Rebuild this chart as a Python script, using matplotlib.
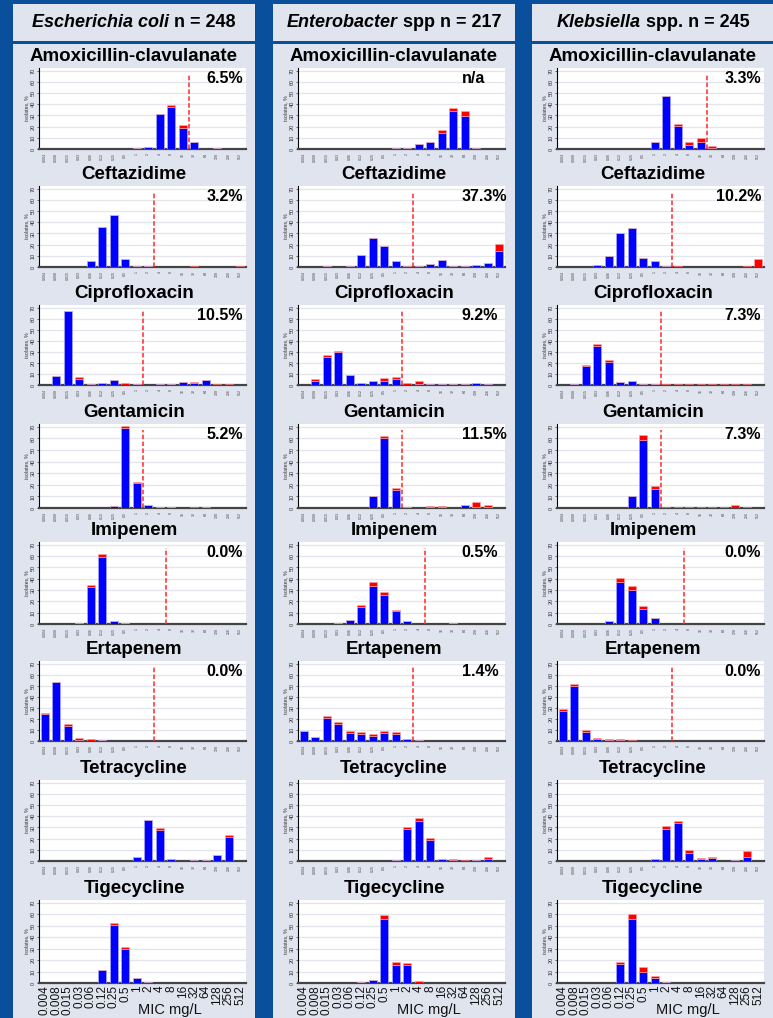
import matplotlib
matplotlib.use('Agg')
import matplotlib.pyplot as plt
from matplotlib.patches import Rectangle
import numpy as np

plt.rcParams['font.family'] = ['Liberation Sans', 'DejaVu Sans']

W, H = 773, 1018

MIC = ['0.004', '0.008', '0.015', '0.03', '0.06', '0.12', '0.25', '0.5', '1', '2',
       '4', '8', '16', '32', '64', '128', '256', '512']
DRUGS = ['Amoxicillin-clavulanate', 'Ceftazidime', 'Ciprofloxacin', 'Gentamicin',
         'Imipenem', 'Ertapenem', 'Tetracycline', 'Tigecycline']
ORGANISMS = [('Escherichia coli', ' n = 248'), ('Enterobacter', ' spp n = 217'),
             ('Klebsiella', ' spp. n = 245')]

# ---- Escherichia coli (% isolates per MIC; blue = susceptible part, red = stacked top)
ECOLI_BLUE = {
    'Amoxicillin-clavulanate': [0, 0, 0, 0, 0, 0, 0, 0, 1.2, 1.8, 30.9, 37.8, 19.2, 6.3, 0, 0.6, 0, 0],
    'Ceftazidime': [0, 0, 0, 0, 5.1, 35.6, 46.5, 7.5, 1.2, 1.2, 0, 0, 0, 0, 0, 0, 0, 0],
    'Ciprofloxacin': [0, 8.2, 66.9, 5.8, 1.2, 1.8, 4.6, 0.4, 0.9, 0, 0.9, 1.2, 2.7, 1.5, 4.3, 0, 0, 0],
    'Gentamicin': [0, 0, 0, 0, 0, 0, 2.0, 69.0, 21.3, 2.6, 1.2, 1.2, 0, 0, 1.2, 0, 0, 0],
    'Imipenem': [0, 0, 0, 0.9, 32.3, 59.3, 2.4, 0.6, 0, 0, 0, 0, 0, 0, 0, 0, 0, 0],
    'Ertapenem': [24.3, 53.8, 13.7, 0.8, 0, 1.0, 0, 0, 0, 0, 0, 0, 0, 0, 0, 0, 0, 0],
    'Tetracycline': [0, 0, 0, 0, 0, 0, 0, 0, 3.6, 36.5, 27.8, 1.8, 0, 0.6, 0.6, 5.1, 21.1, 0],
    'Tigecycline': [0, 0, 0, 0, 0, 11.2, 51.0, 29.4, 4.0, 0.9, 0, 0, 0, 0, 0, 0, 0, 0],
}
ECOLI_RED = {
    'Amoxicillin-clavulanate': [0, 0, 0, 0, 0, 0, 0, 0, 0, 0, 0, 1.8, 2.1, 0, 0, 0, 0, 0],
    'Ceftazidime': [0, 0, 0, 0, 0, 0, 0, 0, 0, 0, 0, 0, 0.3, 1.2, 0, 0, 0.3, 1.0],
    'Ciprofloxacin': [0, 0, 0, 1.5, 0, 0, 0, 1.4, 0, 0, 0, 0, 0, 1.2, 0, 0.6, 1.2, 0],
    'Gentamicin': [0, 0, 0, 0, 0, 0, 0, 2.0, 0.9, 0, 0, 0, 0, 1.2, 0, 0, 0, 0],
    'Imipenem': [0, 0, 0, 0, 1.8, 2.7, 0, 0, 0, 0, 0, 0, 0, 0, 0, 0, 0, 0],
    'Ertapenem': [1.2, 0, 1.5, 1.6, 1.5, 0, 0, 0, 0, 0, 0, 0, 0, 0, 0, 0, 0, 0],
    'Tetracycline': [0, 0, 0, 0, 0, 0, 0, 0, 0, 0, 1.8, 0, 0, 0, 0, 0, 2.5, 0],
    'Tigecycline': [0, 0, 0, 0, 0, 0, 1.7, 1.7, 0, 0, 0, 0, 0, 0, 0, 0, 0, 0],
}

# ---- Enterobacter spp
ENTB_BLUE = {
    'Amoxicillin-clavulanate': [0, 0, 0, 0, 0, 0, 0, 0, 0.6, 0.6, 4.2, 6.0, 14.1, 33.9, 29.7, 0.9, 0, 0],
    'Ceftazidime': [0, 0, 0.6, 0, 1.2, 10.3, 26.3, 18.4, 5.7, 0.6, 0.6, 2.4, 6.0, 1.2, 0.9, 1.8, 3.9, 13.9],
    'Ciprofloxacin': [0, 3.9, 25.1, 29.6, 9.1, 1.5, 3.3, 3.3, 5.1, 0, 1.2, 0.6, 0.6, 0.6, 0.6, 1.5, 0.9, 0],
    'Gentamicin': [0, 0, 0, 0, 0, 0, 10.2, 60.8, 15.7, 0.6, 0, 0.6, 0.6, 0, 2.3, 1.2, 1.2, 0],
    'Imipenem': [0, 0, 0, 0.6, 3.9, 15.3, 33.2, 26.0, 11.4, 2.4, 0, 0, 0, 0.6, 0, 0, 0, 0],
    'Ertapenem': [9.2, 4.0, 20.9, 15.6, 7.1, 6.1, 4.3, 7.4, 6.4, 2.1, 1.2, 0, 0, 0, 0, 0, 0, 0],
    'Tetracycline': [0, 0, 0, 0, 0, 0, 0, 0, 0.9, 28.7, 35.8, 19.0, 1.5, 0.5, 0, 0.6, 2.1, 0],
    'Tigecycline': [0, 0, 0, 0, 0, 0.6, 2.9, 56.0, 15.8, 15.8, 0, 0, 0, 0, 0, 0, 0, 0],
}
ENTB_RED = {
    'Amoxicillin-clavulanate': [0, 0, 0, 0, 0, 0, 0, 0, 0, 0, 0, 0, 2.7, 2.4, 4.2, 0, 0, 0],
    'Ceftazidime': [0, 0, 0, 0, 0, 0, 0, 0, 0, 0, 0, 0, 0, 0, 0, 0, 0, 6.3],
    'Ciprofloxacin': [0, 1.2, 2.1, 1.5, 0, 0, 0, 2.7, 1.8, 1.8, 2.1, 0, 0, 0, 0, 0, 0, 0],
    'Gentamicin': [0, 0, 0, 0, 0, 0, 0, 1.7, 1.5, 0, 0, 0.9, 0.9, 0, 0, 3.7, 1.1, 0],
    'Imipenem': [0, 0, 0, 0, 0, 1.5, 3.6, 2.4, 1.2, 0, 0, 0, 0, 0, 0, 0, 0, 0],
    'Ertapenem': [0, 0, 1.8, 1.9, 1.8, 1.9, 1.8, 1.8, 1.6, 0, 0, 0, 0, 0, 0, 0, 0, 0],
    'Tetracycline': [0, 0, 0, 0, 0, 0, 0, 0, 0, 1.3, 2.7, 1.8, 0, 1.0, 0.6, 0, 1.3, 0],
    'Tigecycline': [0, 0, 0, 0, 0, 0, 0, 3.5, 2.7, 1.8, 1.8, 0, 0, 0, 0, 0, 0, 0],
}

# ---- Klebsiella spp.
KLEB_BLUE = {
    'Amoxicillin-clavulanate': [0, 0, 0, 0, 0, 0, 0, 0, 6.0, 47.0, 21.0, 4.0, 6.0, 1.0, 0, 0, 0, 0],
    'Ceftazidime': [0, 0, 0, 2.0, 10.0, 30.0, 35.0, 8.0, 5.0, 1.0, 0, 0, 0, 0, 0, 0, 0, 0],
    'Ciprofloxacin': [0, 1.0, 17.0, 35.0, 21.0, 3.0, 4.0, 1.0, 1.0, 0, 0, 0, 0, 0, 0, 0, 0, 0],
    'Gentamicin': [0, 0, 0, 0, 0, 0, 10.0, 59.0, 16.0, 0, 0, 0, 0, 0, 0, 0, 0, 0],
    'Imipenem': [0, 0, 0, 0, 3.0, 37.0, 30.0, 13.0, 5.0, 0, 0, 0, 0, 0, 0, 0, 0, 0],
    'Ertapenem': [27.0, 50.0, 8.0, 1.5, 1.0, 0.5, 0, 0, 0, 0, 0, 0, 0, 0, 0, 0, 0, 0],
    'Tetracycline': [0, 0, 0, 0, 0, 0, 0, 0, 2.0, 29.0, 34.0, 7.0, 2.0, 3.0, 0, 1.0, 4.0, 0],
    'Tigecycline': [0, 0, 0, 0, 0, 17.0, 56.0, 10.0, 4.0, 1.0, 0, 0, 0, 0, 0, 0, 0, 0],
}
KLEB_RED = {
    'Amoxicillin-clavulanate': [0, 0, 0, 0, 0, 0, 0, 0, 0, 0, 1.5, 2.0, 4.0, 2.0, 0, 0, 0, 0],
    'Ceftazidime': [0, 0, 0, 0, 0, 0, 0, 0, 0, 0, 1.0, 0, 0, 0, 0, 0, 1.0, 7.0],
    'Ciprofloxacin': [0, 0, 1.0, 2.0, 2.0, 0, 0, 0, 0, 1.0, 1.0, 1.0, 1.0, 1.0, 1.0, 1.0, 1.0, 0],
    'Gentamicin': [0, 0, 0, 0, 0, 0, 0, 4.0, 3.0, 1.0, 1.0, 1.0, 1.0, 1.0, 1.0, 3.0, 1.0, 0],
    'Imipenem': [0, 0, 0, 0, 0, 4.0, 4.0, 3.0, 0, 0, 0, 0, 0, 0, 0, 0, 0, 0],
    'Ertapenem': [2.0, 2.0, 2.0, 1.0, 1.0, 1.0, 1.0, 0, 0, 0, 0, 0, 0, 0, 0, 0, 0, 0],
    'Tetracycline': [0, 0, 0, 0, 0, 0, 0, 0, 0, 2.0, 2.0, 3.0, 1.0, 1.0, 0, 0, 5.0, 0],
    'Tigecycline': [0, 0, 0, 0, 0, 1.0, 4.0, 4.0, 2.0, 0, 0, 0, 0, 0, 0, 0, 0, 0],
}

# resistance percentages shown in each panel
ECOLI_PCT = ['6.5%', '3.2%', '10.5%', '5.2%', '0.0%', '0.0%', '', '']
ENTB_PCT = ['n/a', '37.3%', '9.2%', '11.5%', '0.5%', '1.4%', '', '']
KLEB_PCT = ['3.3%', '10.2%', '7.3%', '7.3%', '0.0%', '0.0%', '', '']

# breakpoint line position (between MIC categories, category index units)
ECOLI_BP = [12.5, 9.5, 8.5, 8.5, 10.5, 9.5, None, None]
ENTB_BP = [None, 9.5, 8.5, 8.5, 10.5, 9.5, None, None]
KLEB_BP = [12.5, 9.5, 8.5, 8.5, 10.5, 9.5, None, None]

COLUMNS = [
    (ECOLI_BLUE, ECOLI_RED, ECOLI_PCT, ECOLI_BP),
    (ENTB_BLUE, ENTB_RED, ENTB_PCT, ENTB_BP),
    (KLEB_BLUE, KLEB_RED, KLEB_PCT, KLEB_BP),
]

# ---------------- layout (pixels) ----------------
BG = '#0a4f9c'
PANEL = '#e0e4ef'
PANEL_X = [13, 273, 532]
PANEL_W = 242
AX_X = [39, 298, 557]
AX_W = 207
AX_TOP = [68, 186, 305, 424, 542, 661, 780, 900]
AX_BOT = [149, 267, 385, 508, 624, 741, 861, 983]
PCT_MODE = ['right', 'left', 'right']


def fx(x):
    return x / W


def fy(y):
    return 1 - y / H


fig = plt.figure(figsize=(W / 100, H / 100), dpi=100, facecolor=BG)

# panels and header boxes
for px in PANEL_X:
    fig.patches.append(Rectangle((fx(px), fy(41)), PANEL_W / W, 37 / H,
                                 transform=fig.transFigure, facecolor=PANEL,
                                 edgecolor='none', zorder=-5))
    fig.patches.append(Rectangle((fx(px), fy(H + 5)), PANEL_W / W, (H + 5 - 44) / H,
                                 transform=fig.transFigure, facecolor=PANEL,
                                 edgecolor='none', zorder=-5))

renderer = fig.canvas.get_renderer()

# headers (italic genus + upright rest)
for c, (ital, rest) in enumerate(ORGANISMS):
    cx = PANEL_X[c] + PANEL_W / 2
    t1 = fig.text(0, fy(22.5), ital, style='italic', fontsize=13, fontweight='bold',
                  ha='left', va='center', color='black')
    t2 = fig.text(0, fy(22.5), rest, fontsize=13, fontweight='bold', ha='left',
                  va='center', color='black')
    w1 = t1.get_window_extent(renderer).width
    w2 = t2.get_window_extent(renderer).width
    x0 = cx - (w1 + w2) / 2
    t1.set_x(fx(x0))
    t2.set_x(fx(x0 + w1))

x = np.arange(len(MIC))

for c, (blue_d, red_d, pct, bp) in enumerate(COLUMNS):
    for r, drug in enumerate(DRUGS):
        top, bot = AX_TOP[r], AX_BOT[r]
        ax = fig.add_axes([fx(AX_X[c]), fy(bot), AX_W / W, (bot - top) / H])
        ax.set_facecolor('white')
        blue = np.array(blue_d[drug])
        red = np.array(red_d[drug])
        ax.bar(x, blue, width=0.7, color='#0000ff', edgecolor='#a9a9f5',
               linewidth=0.5, zorder=3)
        ax.bar(x, red, width=0.7, bottom=blue, color='#ff0000',
               edgecolor='#f5a9a9', linewidth=0.4, zorder=3)
        ax.set_xlim(-0.5, len(MIC) - 0.5)
        ax.set_ylim(0, 72.5)
        ax.set_yticks(range(0, 71, 10))
        ax.yaxis.grid(True, color='#e4e4ec', linewidth=0.9, zorder=0)
        ax.set_axisbelow(True)
        for s in ['top', 'right']:
            ax.spines[s].set_visible(False)
        ax.spines['left'].set_linewidth(0.8)
        ax.spines['left'].set_color('black')
        ax.spines['bottom'].set_linewidth(1.6)
        ax.spines['bottom'].set_color('#444444')
        ax.tick_params(axis='y', labelsize=4, length=1.5, width=0.5, pad=1,
                       labelrotation=90, colors='#333333')
        for lab in ax.get_yticklabels():
            lab.set_va('center')
        ax.set_ylabel('isolates, %', fontsize=3.8, labelpad=1, color='#333333')
        ax.set_xticks(x)
        if r == len(DRUGS) - 1:
            ax.set_xticklabels(MIC, rotation=90, fontsize=8.5, color='#111111')
            ax.tick_params(axis='x', length=0, pad=1.5)
        else:
            ax.set_xticklabels(MIC, rotation=90, fontsize=2.6, color='#444444')
            ax.tick_params(axis='x', length=0, pad=3)
        if bp[r] is not None:
            ax.axvline(bp[r], ymin=0, ymax=0.93, color='#ff2a2a',
                       linestyle=(0, (3, 1.5)), linewidth=1.1, zorder=4)
        if pct[r]:
            if PCT_MODE[c] == 'right':
                ax.text(0.985, 0.96, pct[r], transform=ax.transAxes, ha='right',
                        va='top', fontsize=11.5, fontweight='bold', zorder=5)
            else:
                ax.text(0.79, 0.96, pct[r], transform=ax.transAxes, ha='left',
                        va='top', fontsize=11.5, fontweight='bold', zorder=5)
        # drug title centred on the panel
        fig.text(fx(PANEL_X[c] + PANEL_W / 2), fy(top - 11.5), drug,
                 ha='center', va='center', fontsize=13.5, fontweight='bold')
    # x-axis title
    fig.text(fx(AX_X[c] + 0.63 * AX_W), fy(1003), 'MIC mg/L', ha='center',
             va='top', fontsize=10.5, color='#111111')

fig.savefig('out.png', dpi=100, facecolor=BG)
